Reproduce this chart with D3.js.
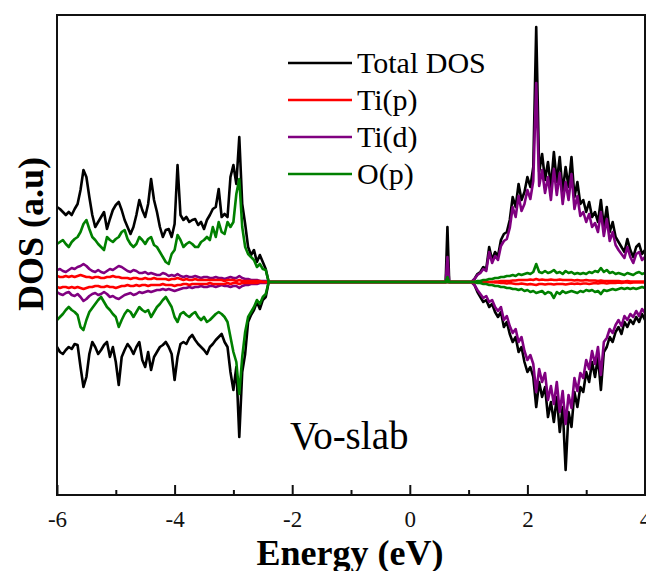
<!DOCTYPE html>
<html>
<head>
<meta charset="utf-8">
<script src="https://cdn.jsdelivr.net/npm/d3@7"></script>
<style>
  html, body { margin: 0; padding: 0; background: #fff; }
  svg { display: block; }
</style>
</head>
<body>
<div id="chart"></div>
<script>
// Energy grids (eV): valence block and conduction block sampled every 0.05 eV
const vbEnergy = d3.range(74).map(i => +(-6 + i * 0.05).toFixed(2));
const cbEnergy = d3.range(59).map(i => +(1.1 + i * 0.05).toFixed(2));
// gap region with the spin-up defect state near 0.64 eV
const gapEnergy = [-2.30, 0.61, 0.64, 0.67, 1.05];

// ---- Valence band (spin up / spin down) ----
const totalUpVB = [7.5,7.3,7.0,6.7,7.0,6.7,7.3,7.8,9.2,11.2, 10.5,8.5,6.7,5.5,6.0,6.5,7.0,5.3,6.3,7.2,
  7.7,8.0,7.2,6.2,5.5,4.8,5.5,6.7,8.2,7.2, 6.5,7.8,10.3,8.2,7.0,5.5,4.5,5.2,5.3,4.5,
  5.8,11.7,6.7,6.2,6.5,6.0,6.2,6.3,5.7,6.0, 5.3,6.2,6.7,7.3,7.5,9.3,6.5,6.8,6.5,10.5,
  11.7,9.8,14.5,7.8,5.8,3.5,2.7,3.2,2.0,2.7, 2.0,1.3,0,0];
const totalDnVB = [-6.5,-7.0,-7.2,-6.8,-6.5,-6.7,-6.2,-6.3,-8.5,-10.5, -9.5,-7.2,-6.0,-6.5,-7.2,-6.8,-6.3,-6.0,-7.5,-6.5,
  -8.0,-10.3,-7.5,-6.8,-6.2,-6.6,-7.2,-6.5,-6.0,-7.8, -8.5,-7.0,-8.8,-7.5,-7.0,-6.5,-6.3,-6.0,-6.5,-7.2,
  -9.8,-7.5,-6.2,-6.0,-6.2,-5.6,-5.3,-5.8,-6.2,-6.5, -6.8,-7.2,-6.5,-6.2,-5.8,-5.5,-5.2,-6.0,-6.5,-9.0,
  -10.8,-8.5,-15.5,-9.0,-7.2,-4.0,-3.3,-2.8,-2.0,-2.7, -1.8,-1.5,0,0];
const tipUpVB = [0.6,0.5,0.5,0.6,0.5,0.6,0.5,0.6,0.7,0.6, 0.5,0.5,0.4,0.5,0.5,0.4,0.4,0.5,0.5,0.6,
  0.5,0.5,0.4,0.4,0.4,0.3,0.4,0.4,0.3,0.3, 0.4,0.3,0.3,0.4,0.3,0.3,0.3,0.3,0.2,0.3,
  0.3,0.4,0.3,0.2,0.3,0.2,0.2,0.3,0.2,0.2, 0.2,0.2,0.2,0.2,0.2,0.2,0.2,0.1,0.2,0.2,
  0.2,0.1,0.2,0.1,0.1,0.1,0.1,0.1,0.1,0.1, 0,0,0,0];
const tipDnVB = [-0.5,-0.6,-0.5,-0.5,-0.6,-0.5,-0.6,-0.5,-0.6,-0.7, -0.6,-0.5,-0.5,-0.4,-0.4,-0.5,-0.5,-0.4,-0.5,-0.5,
  -0.6,-0.5,-0.4,-0.4,-0.3,-0.4,-0.4,-0.3,-0.4,-0.3, -0.3,-0.4,-0.3,-0.3,-0.3,-0.3,-0.2,-0.3,-0.3,-0.3,
  -0.4,-0.3,-0.3,-0.2,-0.2,-0.3,-0.2,-0.2,-0.2,-0.2, -0.2,-0.2,-0.1,-0.2,-0.2,-0.2,-0.2,-0.2,-0.1,-0.2,
  -0.1,-0.1,-0.2,-0.1,-0.1,-0.1,-0.1,-0.1,-0.1,0, 0,0,0,0];
const tidUpVB = [1.2,1.3,1.1,1.0,1.2,1.4,1.3,1.5,1.6,1.8, 1.6,1.3,1.1,1.0,1.2,1.0,0.9,1.1,1.3,1.2,
  1.4,1.6,1.5,1.3,1.1,1.0,1.2,1.1,0.9,0.9, 1.0,0.8,0.9,0.8,0.7,0.7,0.9,0.8,0.6,0.7,
  0.6,0.8,0.6,0.5,0.6,0.5,0.5,0.6,0.5,0.4, 0.5,0.5,0.4,0.4,0.5,0.4,0.4,0.3,0.4,0.5,
  0.4,0.4,0.6,0.4,0.3,0.3,0.2,0.2,0.2,0.1, 0.1,0.1,0,0];
const tidDnVB = [-1.0,-1.2,-1.3,-1.1,-1.0,-1.3,-1.4,-1.2,-1.5,-1.9, -1.7,-1.4,-1.2,-1.1,-1.3,-1.2,-1.0,-1.2,-1.5,-1.4,
  -1.6,-1.7,-1.5,-1.3,-1.2,-1.1,-1.3,-1.2,-1.0,-1.1, -1.0,-0.9,-1.0,-0.9,-0.8,-0.8,-0.7,-0.8,-0.7,-0.8,
  -0.9,-0.8,-0.7,-0.6,-0.6,-0.5,-0.6,-0.5,-0.5,-0.4, -0.5,-0.5,-0.4,-0.4,-0.5,-0.4,-0.3,-0.4,-0.4,-0.5,
  -0.4,-0.4,-0.6,-0.4,-0.3,-0.3,-0.2,-0.2,-0.2,-0.1, -0.1,-0.1,0,0];
const opUpVB = [3.8,4.0,4.2,3.8,3.5,4.0,4.3,4.5,5.0,5.8, 6.2,5.3,4.5,4.2,3.8,3.5,3.2,4.5,4.2,4.0,
  4.3,4.5,5.0,5.2,4.3,3.8,3.5,3.8,4.5,4.2, 3.8,4.3,4.5,3.7,3.5,3.0,2.5,2.0,1.8,2.8,
  3.2,4.7,4.2,3.5,3.8,4.0,3.8,3.5,3.5,4.0, 4.2,4.5,4.2,5.5,4.5,6.0,5.0,4.8,6.0,5.5,
  6.0,8.8,10.3,5.5,3.5,2.8,2.5,2.2,1.5,1.8, 1.3,1.2,0,0];
const opDnVB = [-3.8,-3.5,-3.2,-2.8,-2.5,-2.8,-3.0,-3.3,-4.5,-4.8, -3.8,-3.0,-2.6,-2.2,-1.8,-1.5,-2.0,-2.5,-2.8,-3.2,
  -3.5,-4.5,-3.8,-3.2,-2.8,-3.0,-3.5,-3.0,-2.5,-2.8, -3.0,-2.8,-3.5,-3.0,-2.5,-2.2,-1.8,-1.5,-2.0,-2.5,
  -3.5,-4.0,-3.2,-3.0,-3.3,-3.5,-3.2,-3.0,-3.5,-3.8, -3.5,-4.0,-3.8,-3.5,-3.2,-3.0,-3.2,-3.5,-4.0,-5.5,
  -7.0,-8.0,-11.2,-7.5,-5.0,-3.5,-3.0,-2.5,-1.8,-2.2, -1.5,-1.2,0,0];

// ---- Gap: defect state (spin up only) ----
const totalUpGap = [0, 0, 5.5, 0, 0];
const tipUpGap   = [0, 0, 0.1, 0, 0];
const tidUpGap   = [0, 0, 2.5, 0, 0];
const opUpGap    = [0, 0, 0.5, 0, 0];
const dnGap      = [0, 0, 0, 0, 0];

// ---- Conduction band (spin up / spin down) ----
const totalUpCB = [0.3,0.8,1.0,1.5,1.3,3.5,2.2,3.0,2.6,4.2, 4.8,5.0,6.2,8.5,7.5,9.8,8.2,9.0,10.5,9.5,
  11.5,25.5,11.0,12.8,10.2,12.0,9.5,13.0,10.0,12.5, 9.0,11.5,9.5,12.5,8.5,10.0,7.8,8.2,7.0,8.0,
  6.5,7.0,6.0,8.2,5.5,7.5,5.0,6.0,4.5,4.0, 3.5,3.0,4.3,3.2,2.5,3.5,3.8,2.8,3.2];
const totalDnCB = [-0.3,-1.0,-1.5,-2.0,-1.8,-2.5,-2.2,-3.0,-3.5,-3.0, -4.5,-4.0,-5.2,-6.0,-5.5,-7.0,-6.5,-8.0,-9.0,-8.5,
  -9.5,-12.5,-10.0,-11.5,-10.5,-13.5,-12.0,-14.0,-11.5,-15.0, -12.5,-18.8,-13.0,-14.5,-11.0,-12.5,-10.5,-11.0,-9.0,-10.0,
  -8.0,-9.5,-7.5,-10.8,-7.0,-6.5,-5.5,-6.0,-5.0,-4.5, -5.2,-4.0,-4.5,-3.8,-4.2,-3.5,-4.0,-3.2,-3.8];
const tipUpCB = [0,0,0,0,0,0,0,0.05,0.05,0.1, 0.1,0.1,0.1,0.15,0.15,0.2,0.2,0.2,0.2,0.25,
  0.2,0.3,0.2,0.25,0.2,0.2,0.25,0.2,0.2,0.25, 0.2,0.2,0.2,0.2,0.15,0.2,0.15,0.15,0.2,0.15,
  0.15,0.15,0.1,0.15,0.1,0.1,0.1,0.1,0.1,0.1, 0.05,0.05,0.1,0.05,0.05,0.05,0.05,0.05,0.05];
const tipDnCB = [0,0,0,0,0,0,0,-0.05,-0.05,-0.1, -0.1,-0.15,-0.1,-0.15,-0.2,-0.2,-0.15,-0.2,-0.25,-0.2,
  -0.25,-0.3,-0.2,-0.2,-0.25,-0.2,-0.2,-0.25,-0.2,-0.2, -0.2,-0.25,-0.2,-0.15,-0.2,-0.15,-0.2,-0.15,-0.15,-0.2,
  -0.15,-0.1,-0.15,-0.1,-0.1,-0.15,-0.1,-0.1,-0.1,-0.05, -0.1,-0.05,-0.05,-0.1,-0.05,-0.05,-0.05,-0.05,-0.05];
const tidUpCB = [0.3,0.7,0.9,1.3,1.1,3.0,1.9,2.6,2.2,3.6, 4.1,4.3,5.4,7.5,6.5,8.6,7.1,7.8,9.2,8.3,
  10.1,19.9,9.6,11.2,8.9,10.5,8.2,11.3,8.7,10.9, 7.8,10.0,8.2,10.8,7.3,8.6,6.6,7.0,6.0,6.8,
  5.5,5.9,5.0,7.0,4.6,6.3,4.1,5.0,3.7,3.2, 2.8,2.4,3.5,2.5,1.9,2.8,3.0,2.2,2.5];
const tidDnCB = [-0.3,-0.8,-1.2,-1.6,-1.4,-2.0,-1.8,-2.5,-2.9,-2.5, -3.8,-3.4,-4.4,-5.1,-4.7,-6.0,-5.5,-6.9,-7.8,-7.3,
  -8.2,-11.0,-8.7,-10.0,-9.1,-11.8,-10.4,-12.2,-10.0,-13.0, -10.9,-14.2,-11.3,-12.6,-9.6,-10.9,-9.1,-9.6,-7.8,-8.7,
  -6.9,-8.2,-6.5,-9.3,-6.0,-5.6,-4.7,-5.1,-4.3,-3.8, -4.4,-3.4,-3.8,-3.2,-3.5,-2.9,-3.4,-2.7,-3.1];
const opUpCB = [0,0.1,0.1,0.2,0.2,0.3,0.3,0.4,0.4,0.5, 0.5,0.6,0.6,0.7,0.6,0.8,0.7,0.8,0.9,0.8,
  1.0,1.8,1.0,0.9,1.1,0.9,1.0,1.2,0.9,1.0, 0.8,1.1,0.9,1.0,0.8,0.9,0.8,0.9,0.8,1.0,
  0.9,1.1,1.0,1.4,1.0,1.2,0.9,1.0,0.8,0.9, 0.8,0.7,0.9,0.8,0.7,0.9,1.0,0.8,0.9];
const opDnCB = [0,-0.1,-0.1,-0.2,-0.2,-0.3,-0.3,-0.4,-0.4,-0.5, -0.5,-0.6,-0.6,-0.7,-0.7,-0.8,-0.7,-0.9,-0.8,-1.0,
  -0.9,-1.1,-1.0,-0.9,-1.2,-1.0,-1.1,-1.6,-1.0,-1.2, -0.9,-1.1,-1.0,-0.9,-1.0,-1.1,-0.9,-1.0,-0.8,-0.9,
  -0.8,-1.0,-0.9,-1.2,-0.8,-0.9,-0.8,-0.7,-0.8,-0.7, -0.6,-0.7,-0.6,-0.7,-0.6,-0.7,-0.6,-0.5,-0.6];

const xTicks = [-6, -4, -2, 0, 2, 4];
const xMinorTicks = [-5, -3, -1, 1, 3];
const legendLabels = ["Total DOS", "Ti(p)", "Ti(d)", "O(p)"];
const seriesColors = ["#000000", "#ff0000", "#800080", "#008000"];

(function draw() {
  // ---- Assemble series ----
  const energy = vbEnergy.concat(gapEnergy, cbEnergy);
  const series = [
    { color: seriesColors[0], up: totalUpVB.concat(totalUpGap, totalUpCB), dn: totalDnVB.concat(dnGap, totalDnCB) },
    { color: seriesColors[2], up: tidUpVB.concat(tidUpGap, tidUpCB),       dn: tidDnVB.concat(dnGap, tidDnCB) },
    { color: seriesColors[1], up: tipUpVB.concat(tipUpGap, tipUpCB),       dn: tipDnVB.concat(dnGap, tipDnCB) },
    { color: seriesColors[3], up: opUpVB.concat(opUpGap, opUpCB),          dn: opDnVB.concat(dnGap, opDnCB) }
  ];

  // ---- Layout ----
  const W = 646, H = 571;
  const mLeft = 57, mRight = 645, mTop = 15, mBottom = 495;
  const serif = "'Liberation Serif', 'Times New Roman', serif";

  const svg = d3.select("#chart").append("svg").attr("width", W).attr("height", H);

  const x = d3.scaleLinear().domain([-6, 4]).range([mLeft, mRight]);
  const y = d3.scaleLinear().domain([-21.3, 26.7]).range([mBottom, mTop]);

  svg.append("defs").append("clipPath").attr("id", "plotClip")
    .append("rect").attr("x", mLeft).attr("y", mTop)
    .attr("width", mRight - mLeft).attr("height", mBottom - mTop);

  const plot = svg.append("g").attr("clip-path", "url(#plotClip)");
  const line = d3.line().x(d => x(d[0])).y(d => y(d[1]));

  series.forEach(s => {
    ["up", "dn"].forEach(k => {
      plot.append("path")
        .datum(energy.map((e, i) => [e, s[k][i]]))
        .attr("d", line)
        .attr("fill", "none")
        .attr("stroke", s.color)
        .attr("stroke-width", 2.6)
        .attr("stroke-linejoin", "round");
    });
  });

  // ---- Frame ----
  svg.append("rect")
    .attr("x", mLeft).attr("y", mTop).attr("width", mRight - mLeft).attr("height", mBottom - mTop)
    .attr("fill", "none").attr("stroke", "#111").attr("stroke-width", 2);

  // ---- Bottom axis (inward ticks) ----
  const xAxis = d3.axisBottom(x).tickValues(xTicks).tickSizeInner(-10).tickSizeOuter(0)
    .tickPadding(16).tickFormat(d => String(d));
  const gx = svg.append("g").attr("transform", `translate(0,${mBottom})`).call(xAxis);
  gx.select(".domain").remove();
  gx.selectAll(".tick line").attr("stroke", "#111").attr("stroke-width", 2);
  gx.selectAll(".tick text")
    .attr("font-family", serif).attr("font-size", 23).attr("fill", "#111");

  const xMinor = d3.axisBottom(x).tickValues(xMinorTicks).tickSizeInner(-5).tickSizeOuter(0).tickFormat("");
  const gm = svg.append("g").attr("transform", `translate(0,${mBottom})`).call(xMinor);
  gm.select(".domain").remove();
  gm.selectAll(".tick line").attr("stroke", "#111").attr("stroke-width", 2);

  // ---- Axis titles ----
  svg.append("text")
    .attr("x", 350).attr("y", 565)
    .attr("text-anchor", "middle")
    .attr("font-family", serif).attr("font-weight", "bold").attr("font-size", 36)
    .text("Energy (eV)");

  svg.append("text")
    .attr("transform", "translate(43,234) rotate(-90)")
    .attr("text-anchor", "middle")
    .attr("font-family", serif).attr("font-weight", "bold").attr("font-size", 36)
    .text("DOS (a.u)");

  // ---- Annotation ----
  svg.append("text")
    .attr("x", 290).attr("y", 449)
    .attr("font-family", serif).attr("font-size", 39)
    .text("Vo-slab");

  // ---- Legend ----
  const legend = svg.append("g");
  legendLabels.forEach((lab, i) => {
    const ly = 63 + i * 37;
    legend.append("line")
      .attr("x1", 288).attr("x2", 352).attr("y1", ly).attr("y2", ly)
      .attr("stroke", seriesColors[i]).attr("stroke-width", 2.6);
    legend.append("text")
      .attr("x", 357).attr("y", ly + 10)
      .attr("font-family", serif).attr("font-size", 30)
      .text(lab);
  });
})();
</script>
</body>
</html>
